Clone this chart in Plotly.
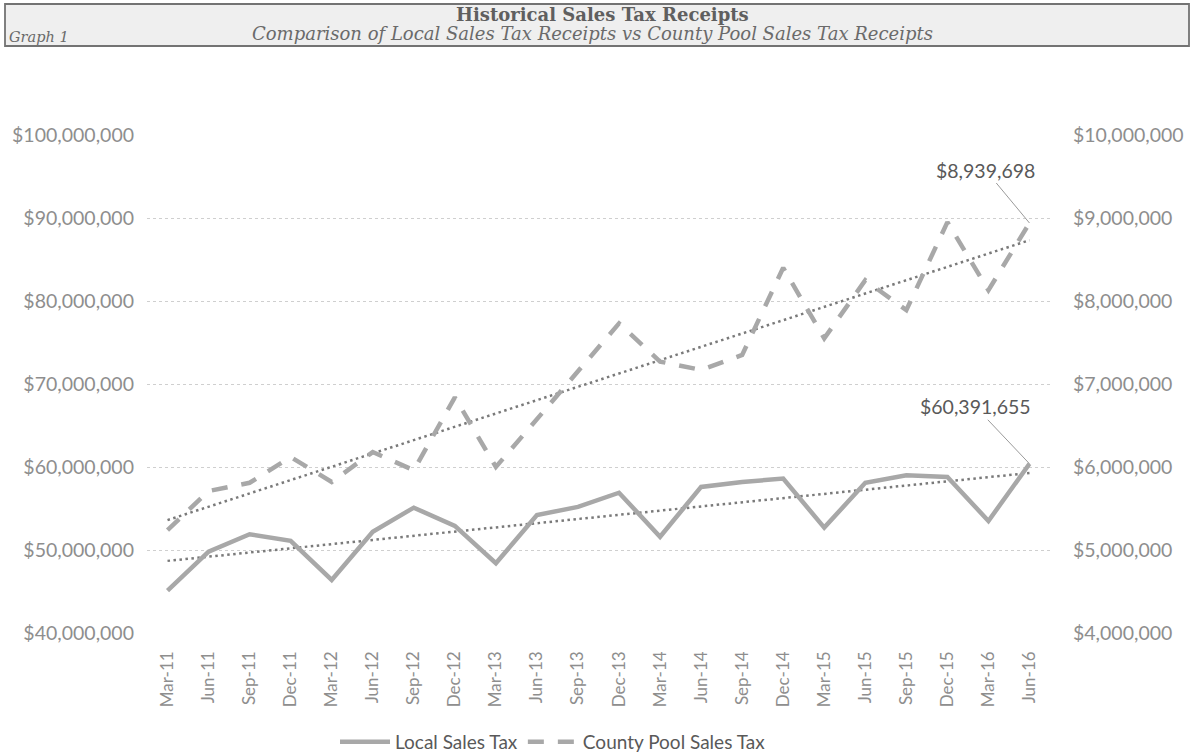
import plotly.graph_objects as go
import numpy as np

W, H = 1193, 754

quarters = ["Mar-11", "Jun-11", "Sep-11", "Dec-11", "Mar-12", "Jun-12", "Sep-12", "Dec-12",
            "Mar-13", "Jun-13", "Sep-13", "Dec-13", "Mar-14", "Jun-14", "Sep-14", "Dec-14",
            "Mar-15", "Jun-15", "Sep-15", "Dec-15", "Mar-16", "Jun-16"]

local_sales_tax = [45.1e6, 49.8e6, 51.9e6, 51.1e6, 46.4e6, 52.2e6, 55.1e6, 52.9e6,
                   48.4e6, 54.2e6, 55.2e6, 56.9e6, 51.6e6, 57.6e6, 58.2e6, 58.6e6,
                   52.7e6, 58.1e6, 59.0e6, 58.8e6, 53.5e6, 60391655]

county_pool_sales_tax = [5.24e6, 5.71e6, 5.81e6, 6.12e6, 5.82e6, 6.18e6, 5.96e6, 6.84e6,
                         6.00e6, 6.57e6, 7.14e6, 7.73e6, 7.27e6, 7.17e6, 7.35e6, 8.40e6,
                         7.55e6, 8.25e6, 7.89e6, 8.95e6, 8.13e6, 8939698]

left_ticks = [40e6, 50e6, 60e6, 70e6, 80e6, 90e6, 100e6]
left_tick_text = ["$40,000,000", "$50,000,000", "$60,000,000", "$70,000,000",
                  "$80,000,000", "$90,000,000", "$100,000,000"]
right_ticks = [4e6, 5e6, 6e6, 7e6, 8e6, 9e6, 10e6]
right_tick_text = ["$4,000,000", "$5,000,000", "$6,000,000", "$7,000,000",
                   "$8,000,000", "$9,000,000", "$10,000,000"]

idx = np.arange(len(quarters))
# linear trendlines (least squares fit, as in the source spreadsheet)
lc = np.polyfit(idx, local_sales_tax, 1)
cc = np.polyfit(idx, county_pool_sales_tax, 1)
local_trend = np.polyval(lc, idx)
county_trend = np.polyval(cc, idx)

LINE_GRAY = "#a8a8a8"
TREND_GRAY = "#7a7a7a"
TICK_GRAY = "#8e8e8e"
TEXT_GRAY = "#595959"
FONT = "Lato, 'Open Sans', sans-serif"
SERIF = "'DejaVu Serif', 'Liberation Serif', serif"

fig = go.Figure()

fig.add_trace(go.Scatter(x=quarters, y=local_trend, mode="lines", yaxis="y",
                         line=dict(color=TREND_GRAY, width=2.5, dash="2.5px,3.5px"),
                         showlegend=False, hoverinfo="skip"))
fig.add_trace(go.Scatter(x=quarters, y=county_trend, mode="lines", yaxis="y2",
                         line=dict(color=TREND_GRAY, width=2.5, dash="2.5px,3.5px"),
                         showlegend=False, hoverinfo="skip"))
fig.add_trace(go.Scatter(x=quarters, y=local_sales_tax, mode="lines", name="Local Sales Tax",
                         yaxis="y", line=dict(color=LINE_GRAY, width=4.5)))
fig.add_trace(go.Scatter(x=quarters, y=county_pool_sales_tax, mode="lines",
                         name="County Pool Sales Tax", yaxis="y2",
                         line=dict(color=LINE_GRAY, width=4.5, dash="16px,14px")))

x0, x1 = 147 / W, 1050 / W
ytop, ybot = 1 - 135 / H, 1 - 633 / H

fig.update_layout(
    width=W, height=H,
    margin=dict(l=0, r=0, t=0, b=0, autoexpand=False),
    paper_bgcolor="white", plot_bgcolor="white",
    font=dict(family=FONT, color=TEXT_GRAY),
    xaxis=dict(domain=[x0, x1], type="category", range=[-0.5, len(quarters) - 0.5],
               showgrid=False, showline=False, zeroline=False,
               tickangle=-90, tickfont=dict(size=17, color=TICK_GRAY),
               ticks="", ticklabelstandoff=14),
    yaxis=dict(domain=[ybot, ytop], range=[40e6, 100e6], tickvals=left_ticks,
               ticktext=left_tick_text, showgrid=True, gridcolor="#cfcfcf", gridwidth=1,
               griddash="dot", zeroline=False, showline=False, ticks="",
               tickfont=dict(size=19.5, color=TICK_GRAY), ticklabelstandoff=12),
    yaxis2=dict(overlaying="y", side="right", range=[4e6, 10e6], tickvals=right_ticks,
                ticktext=right_tick_text, showgrid=False, zeroline=False, showline=False,
                ticks="", tickfont=dict(size=19.5, color=TICK_GRAY), ticklabelstandoff=22),
    legend=dict(orientation="h", x=553 / W, xanchor="center", y=1 - 742 / H, yanchor="middle",
                font=dict(size=19, color=TEXT_GRAY), bgcolor="rgba(0,0,0,0)",
                itemwidth=50),
    showlegend=True,
)

# header box
fig.add_shape(type="rect", xref="paper", yref="paper",
              x0=5 / W, x1=1189 / W, y0=1 - 46 / H, y1=1 - 4 / H,
              fillcolor="#efefef", line=dict(color="#737373", width=1.8), layer="below")

fig.add_annotation(xref="paper", yref="paper", x=603 / W, y=1 - 15 / H, showarrow=False,
                   text="<b>Historical Sales Tax Receipts</b>",
                   font=dict(family=SERIF, size=18, color="#5f5f5f"),
                   xanchor="center", yanchor="middle")
fig.add_annotation(xref="paper", yref="paper", x=592 / W, y=1 - 33.5 / H, showarrow=False,
                   text="<i>Comparison of Local Sales Tax Receipts vs County Pool Sales Tax Receipts</i>",
                   font=dict(family=SERIF, size=18, color="#6a6a6a"),
                   xanchor="center", yanchor="middle")
fig.add_annotation(xref="paper", yref="paper", x=7 / W, y=1 - 37 / H, showarrow=False,
                   text="<i>Graph 1</i>",
                   font=dict(family=SERIF, size=14.5, color="#6a6a6a"),
                   xanchor="left", yanchor="middle")

# value callouts
fig.add_annotation(x=quarters[-1], y=county_pool_sales_tax[-1], xref="x", yref="y2",
                   text="$8,939,698", showarrow=True, arrowhead=0, arrowwidth=1,
                   arrowcolor="#9a9a9a", ax=-44, ay=-53,
                   font=dict(size=19.5, color=TEXT_GRAY))
fig.add_annotation(x=quarters[-1], y=local_sales_tax[-1], xref="x", yref="y",
                   text="$60,391,655", showarrow=True, arrowhead=0, arrowwidth=1,
                   arrowcolor="#9a9a9a", ax=-54, ay=-57,
                   font=dict(size=19.5, color=TEXT_GRAY))

fig.write_html("out.html")
